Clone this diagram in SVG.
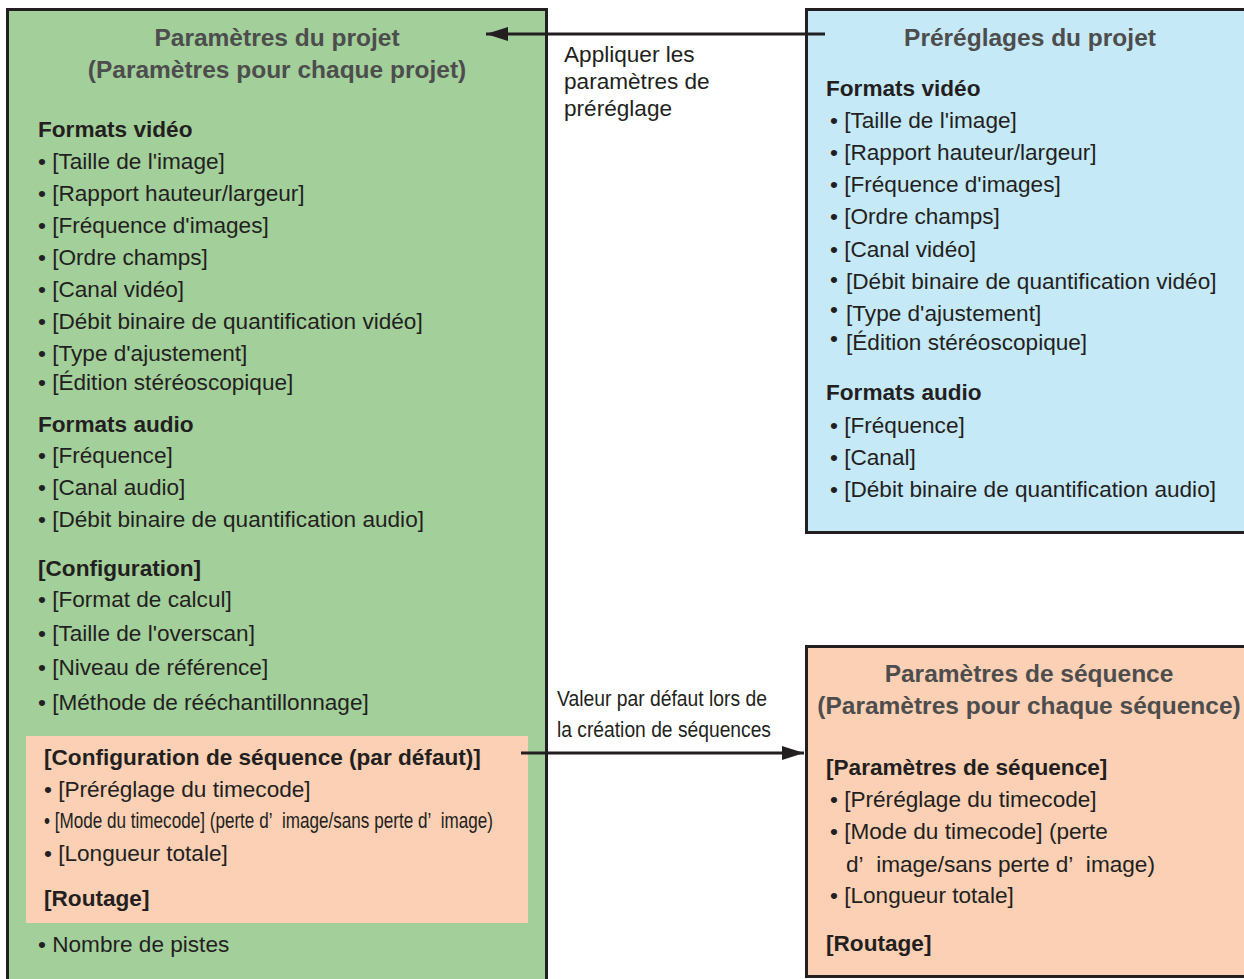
<svg xmlns="http://www.w3.org/2000/svg" width="1244" height="979" viewBox="0 0 1244 979">
<defs>
<style>
.box{stroke:#231f20;stroke-width:3}
.t{font-family:"Liberation Sans",Arial,sans-serif;fill:#231f20;font-size:22.6px}
.h{font-family:"Liberation Sans",Arial,sans-serif;fill:#231f20;font-size:22.6px;font-weight:bold}
.ttl{font-family:"Liberation Sans",Arial,sans-serif;fill:#4d4d4d;font-size:24.5px;font-weight:bold;text-anchor:middle}
.conn{stroke:#231f20;stroke-width:3;fill:none}
</style>
<marker id="ah" markerUnits="userSpaceOnUse" markerWidth="24" markerHeight="16" refX="22" refY="8" orient="auto">
<path d="M0,1 L22,8 L0,15 Z" fill="#231f20"/>
</marker>
</defs>
<rect width="1244" height="979" fill="#ffffff"/>

<g id="projet">
<rect class="box" x="7.5" y="9.5" width="539" height="990" fill="#a3cf9b"/>
<text class="ttl" x="277" y="46">Paramètres du projet</text>
<text class="ttl" x="277" y="78">(Paramètres pour chaque projet)</text>
<text class="h" x="38" y="137">Formats vidéo</text>
<text class="t" x="38" y="169">• [Taille de l'image]</text>
<text class="t" x="38" y="201">• [Rapport hauteur/largeur]</text>
<text class="t" x="38" y="233">• [Fréquence d'images]</text>
<text class="t" x="38" y="265">• [Ordre champs]</text>
<text class="t" x="38" y="297">• [Canal vidéo]</text>
<text class="t" x="38" y="329">• [Débit binaire de quantification vidéo]</text>
<text class="t" x="38" y="361">• [Type d'ajustement]</text>
<text class="t" x="38" y="390">• [Édition stéréoscopique]</text>
<text class="h" x="38" y="432">Formats audio</text>
<text class="t" x="38" y="463">• [Fréquence]</text>
<text class="t" x="38" y="495">• [Canal audio]</text>
<text class="t" x="38" y="527">• [Débit binaire de quantification audio]</text>
<text class="h" x="38" y="576">[Configuration]</text>
<text class="t" x="38" y="607">• [Format de calcul]</text>
<text class="t" x="38" y="641">• [Taille de l'overscan]</text>
<text class="t" x="38" y="675">• [Niveau de référence]</text>
<text class="t" x="38" y="710">• [Méthode de rééchantillonnage]</text>
<rect x="26" y="736" width="502" height="187" fill="#fbd0b4"/>
<text class="h" x="44" y="765">[Configuration de séquence (par défaut)]</text>
<text class="t" x="44" y="797">• [Préréglage du timecode]</text>
<text class="t" x="44" y="828" textLength="449" lengthAdjust="spacingAndGlyphs">• [Mode du timecode] (perte d’&#160; image/sans perte d’&#160; image)</text>
<text class="t" x="44" y="861">• [Longueur totale]</text>
<text class="h" x="44" y="906">[Routage]</text>
<text class="t" x="38" y="952">• Nombre de pistes</text>
</g>

<g id="prereglages">
<rect class="box" x="806.5" y="9.5" width="460" height="523" fill="#c6e9f8"/>
<text class="ttl" x="1030" y="46">Préréglages du projet</text>
<text class="h" x="826" y="96">Formats vidéo</text>
<text class="t" x="830" y="128">• [Taille de l'image]</text>
<text class="t" x="830" y="160">• [Rapport hauteur/largeur]</text>
<text class="t" x="830" y="192">• [Fréquence d'images]</text>
<text class="t" x="830" y="224">• [Ordre champs]</text>
<text class="t" x="830" y="257">• [Canal vidéo]</text>
<text class="t" x="830" y="287">•</text>
<text class="t" x="846" y="289">[Débit binaire de quantification vidéo]</text>
<text class="t" x="830" y="317">•</text>
<text class="t" x="846" y="321">[Type d'ajustement]</text>
<text class="t" x="830" y="346">•</text>
<text class="t" x="846" y="350">[Édition stéréoscopique]</text>
<text class="h" x="826" y="400">Formats audio</text>
<text class="t" x="830" y="433">• [Fréquence]</text>
<text class="t" x="830" y="465">• [Canal]</text>
<text class="t" x="830" y="497">• [Débit binaire de quantification audio]</text>
</g>

<g id="sequence">
<rect class="box" x="806.5" y="646.5" width="460" height="330" fill="#fbd0b4"/>
<text class="ttl" x="1029" y="682">Paramètres de séquence</text>
<text class="ttl" x="1029" y="714">(Paramètres pour chaque séquence)</text>
<text class="h" x="826" y="775">[Paramètres de séquence]</text>
<text class="t" x="830" y="807">• [Préréglage du timecode]</text>
<text class="t" x="830" y="839">• [Mode du timecode] (perte</text>
<text class="t" x="846" y="872">d’&#160; image/sans perte d’&#160; image)</text>
<text class="t" x="830" y="903">• [Longueur totale]</text>
<text class="h" x="826" y="951">[Routage]</text>
</g>

<g id="connectors">
<line class="conn" x1="825" y1="34" x2="486" y2="34" marker-end="url(#ah)"/>
<line class="conn" x1="521" y1="753" x2="804" y2="753" marker-end="url(#ah)"/>
<text class="t" x="564" y="62">Appliquer les</text>
<text class="t" x="564" y="89">paramètres de</text>
<text class="t" x="564" y="116">préréglage</text>
<text class="t" x="557" y="706" textLength="210" lengthAdjust="spacingAndGlyphs">Valeur par défaut lors de</text>
<text class="t" x="557" y="737" textLength="214" lengthAdjust="spacingAndGlyphs">la création de séquences</text>
</g>
</svg>
